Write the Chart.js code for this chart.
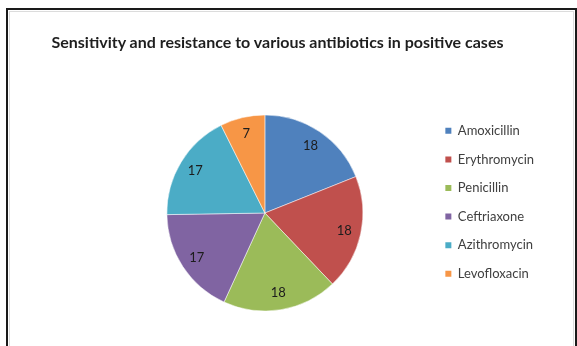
<!DOCTYPE html>
<html>
<head>
<meta charset="utf-8">
<script src="https://cdn.jsdelivr.net/npm/chart.js@4/dist/chart.umd.min.js"></script>
<style>
  html, body { margin: 0; padding: 0; background: #fff; }
  #wrap { position: relative; width: 577px; height: 346px; overflow: hidden; background: #fff; }
  #c { position: absolute; left: 0; top: 0; }
  #title {
    position: absolute; left: 0; top: 33px; width: 555px;
    text-align: center; font: bold 16px "Lato", sans-serif; line-height: 18px;
    color: #1e1e1e; white-space: nowrap;
  }
  #frame {
    position: absolute; left: 6px; top: 8px; width: 571px; height: 400px;
    box-sizing: border-box; border: 2px solid #1a1a1a; pointer-events: none;
  }
  #frame::after {
    content: ""; position: absolute; left: 1px; top: 1px; right: 1px; bottom: 1px;
    border: 1px solid #dcdcdc;
  }
</style>
</head>
<body>
<div id="wrap">
  <canvas id="c" width="577" height="346"></canvas>
  <div id="title">Sensitivity and resistance to various antibiotics in positive cases</div>
  <div id="frame"></div>
</div>
<script>
// Antibiotics tested and number of positive cases for each
const categories = ['Amoxicillin', 'Erythromycin', 'Penicillin', 'Ceftriaxone', 'Azithromycin', 'Levofloxacin'];
const caseCounts = [18, 18, 18, 17, 17, 7];

// Office-style slice palette
const sliceColors = ['#4F81BD', '#C0504D', '#9BBB59', '#8064A2', '#4BACC6', '#F79646'];

// Writes each slice's value inside the slice, near its outer edge
const sliceLabels = {
  id: 'sliceLabels',
  afterDatasetsDraw(chart) {
    const ctx = chart.ctx;
    const meta = chart.getDatasetMeta(0);
    const values = chart.data.datasets[0].data;
    ctx.save();
    ctx.font = '13px "Lato", sans-serif';
    ctx.fillStyle = '#1c1c1c';
    ctx.textAlign = 'center';
    ctx.textBaseline = 'middle';
    meta.data.forEach((arc, i) => {
      const p = arc.getProps(['x', 'y', 'startAngle', 'endAngle', 'outerRadius'], true);
      const mid = (p.startAngle + p.endAngle) / 2;
      const r = p.outerRadius * 0.83;
      ctx.fillText(String(values[i]), p.x + Math.cos(mid) * r, p.y + Math.sin(mid) * r);
    });
    ctx.restore();
  }
};

new Chart(document.getElementById('c'), {
  type: 'pie',
  data: {
    labels: categories,
    datasets: [{
      data: caseCounts,
      backgroundColor: sliceColors,
      borderColor: '#ffffff',
      borderWidth: 0.5,
      radius: 98
    }]
  },
  options: {
    responsive: false,
    animation: false,
    events: [],
    layout: { padding: { left: 100, right: 33, top: 108.7, bottom: 28.7 } },
    plugins: {
      title: { display: false },
      tooltip: { enabled: false },
      legend: {
        display: true,
        position: 'right',
        align: 'start',
        labels: {
          boxWidth: 6,
          boxHeight: 6,
          padding: 15.6,
          color: '#404040',
          font: { family: 'Lato', size: 13 },
          generateLabels(chart) {
            return Chart.overrides.pie.plugins.legend.labels.generateLabels(chart)
              .map(item => Object.assign(item, { lineWidth: 0 }));
          }
        }
      }
    }
  },
  plugins: [sliceLabels]
});
</script>
</body>
</html>
